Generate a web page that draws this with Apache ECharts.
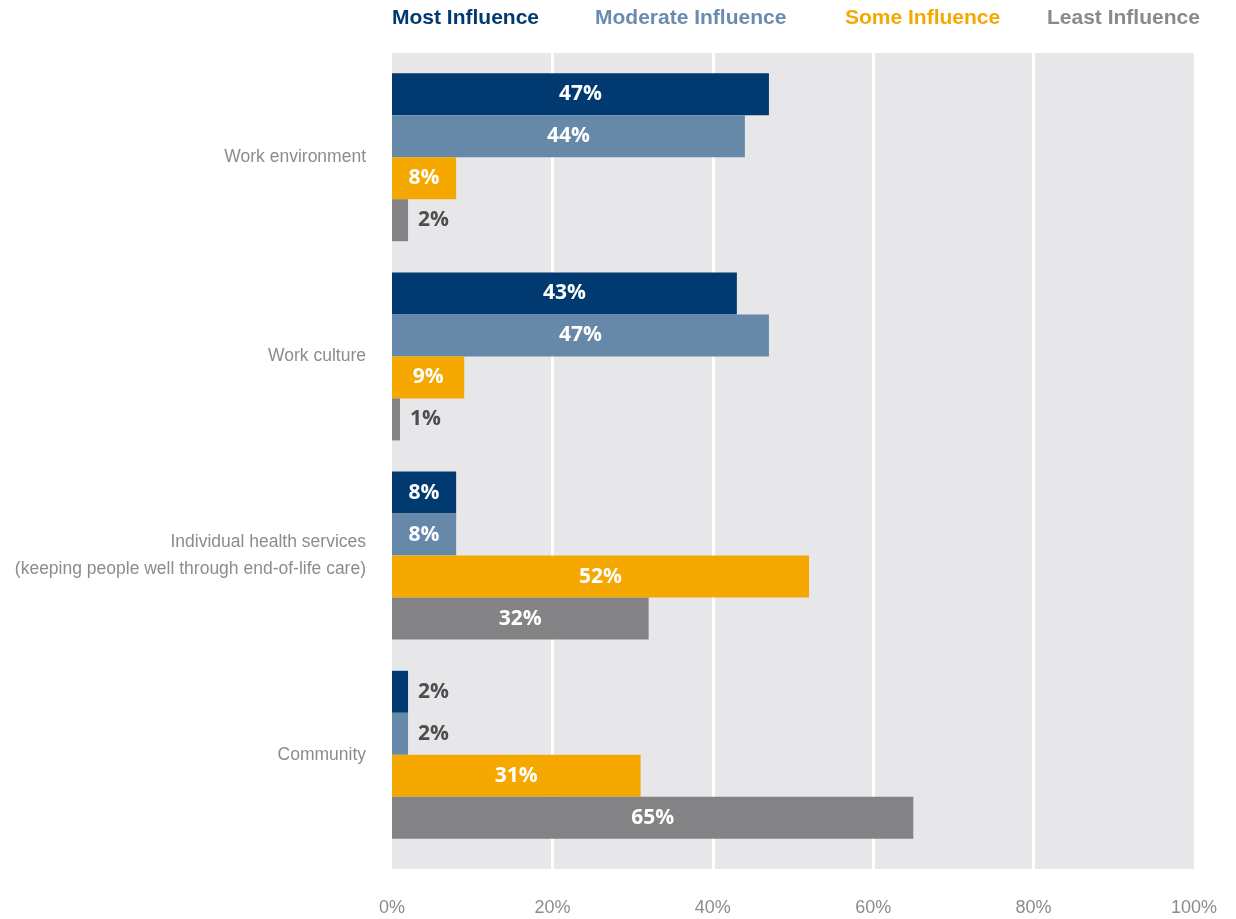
<!DOCTYPE html>
<html>
<head>
    <meta charset="UTF-8">
    <title>Influence by area</title>
    <style>
        html, body { margin: 0; padding: 0; background: #ffffff; }
    </style>
</head>
<body>
<div id="chart" style="width: 1236px; height: 919px;"></div>
<script src="https://cdn.jsdelivr.net/npm/echarts@6/dist/echarts.min.js"></script>
<script>
    var categories = [
        'Work environment',
        'Work culture',
        'Individual health services\n(keeping people well through end-of-life care)',
        'Community'
    ];
    var seriesNames = ['Most Influence', 'Moderate Influence', 'Some Influence', 'Least Influence'];
    var mostInfluence = [47, 43, 8, 2];
    var moderateInfluence = [44, 47, 8, 2];
    var someInfluence = [8, 9, 52, 31];
    var leastInfluence = [2, 1, 32, 65];

    var barColors = ['#003a70', '#6689aa', '#f5a800', '#838386'];
    var legendColors = ['#003a70', '#6a8cae', '#f5a800', '#8a8a8c'];
    var legendLeft = [382, 585, 835, 1037];

    // small bars get their label outside, in dark grey
    function withLabels(values) {
        return values.map(function (v) {
            if (v < 5) {
                return {
                    value: v,
                    label: { position: 'right', distance: 10, color: '#4d4d4f' }
                };
            }
            return v;
        });
    }

    var valueSets = [mostInfluence, moderateInfluence, someInfluence, leastInfluence];

    var chart = echarts.init(document.getElementById('chart'));

    var option = {
        animation: false,
        legend: seriesNames.map(function (name, i) {
            return {
                data: [name],
                left: legendLeft[i],
                top: 3,
                icon: 'none',
                itemWidth: 0,
                itemHeight: 0,
                selectedMode: false,
                textStyle: {
                    color: legendColors[i],
                    fontFamily: 'Liberation Sans',
                    fontWeight: 'bold',
                    fontSize: 21
                }
            };
        }),
        grid: [
            // background panel with white gridlines
            { left: 392, top: 53, width: 802, height: 816, show: true, backgroundColor: '#e7e7e9', borderWidth: 0 },
            // bars
            { left: 392, top: 57.6, width: 802, height: 796.8 }
        ],
        xAxis: [{
            gridIndex: 0,
            type: 'value',
            min: 0,
            max: 100,
            interval: 20,
            axisLine: { show: false },
            axisTick: { show: false },
            splitLine: { showMinLine: false, showMaxLine: false, lineStyle: { color: '#ffffff', width: 3 } },
            axisLabel: {
                formatter: '{value}%',
                color: '#8c8c8e',
                fontFamily: 'Liberation Sans',
                fontSize: 18,
                margin: 30
            }
        }, {
            gridIndex: 1,
            type: 'value',
            min: 0,
            max: 100,
            show: false
        }],
        yAxis: [{
            gridIndex: 0,
            type: 'value',
            show: false
        }, {
            gridIndex: 1,
            type: 'category',
            data: categories,
            inverse: true,
            axisLine: { show: false },
            axisTick: { show: false },
            axisLabel: {
                color: '#8c8c8e',
                fontFamily: 'Liberation Sans',
                fontSize: 17.5,
                lineHeight: 27,
                margin: 26
            }
        }],
        series: seriesNames.map(function (name, i) {
            return {
                name: name,
                type: 'bar',
                xAxisIndex: 1,
                yAxisIndex: 1,
                barWidth: 42,
                barGap: 0,
                itemStyle: { color: barColors[i] },
                label: {
                    show: true,
                    position: 'inside',
                    formatter: '{c}%',
                    color: '#ffffff',
                    fontFamily: 'Open Sans',
                    fontWeight: 'bold',
                    fontSize: 21
                },
                data: withLabels(valueSets[i])
            };
        })
    };

    chart.setOption(option);
    window.onresize = function () { chart.resize(); };
</script>
</body>
</html>
